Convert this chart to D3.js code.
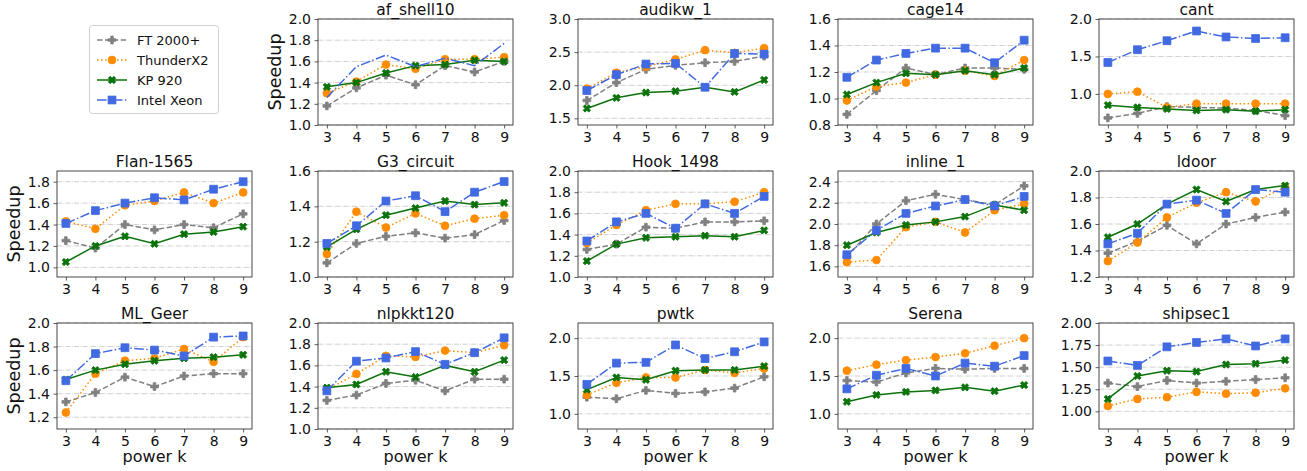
<!DOCTYPE html>
<html>
<head>
<meta charset="utf-8">
<script src="https://cdn.jsdelivr.net/npm/d3@7"></script>
<style>
  body { margin: 0; background: #fff; }
  svg { font-family: "DejaVu Sans", sans-serif; }
</style>
</head>
<body>
<svg id="chart" width="1307" height="471"></svg>
<script>
// power k on the x axis
const kValues = [3, 4, 5, 6, 7, 8, 9];
const seriesNames = ["FT 2000+", "ThunderX2", "KP 920", "Intel Xeon"];

const matrices = ["af_shell10", "audikw_1", "cage14", "cant",
    "Flan-1565", "G3_circuit", "Hook_1498", "inline_1", "ldoor",
    "ML_Geer", "nlpkkt120", "pwtk", "Serena", "shipsec1"];

// speedup values, one row per matrix (same order as matrices)
const ft2000 = [
    [1.18, 1.35, 1.47, 1.38, 1.56, 1.50, 1.60],
    [1.77, 2.04, 2.24, 2.30, 2.34, 2.36, 2.44],
    [0.88, 1.06, 1.23, 1.18, 1.23, 1.23, 1.22],
    [0.68, 0.74, 0.83, 0.82, 0.81, 0.78, 0.71],
    [1.25, 1.18, 1.40, 1.35, 1.40, 1.37, 1.50],
    [1.08, 1.19, 1.23, 1.25, 1.22, 1.24, 1.32],
    [1.26, 1.31, 1.47, 1.46, 1.52, 1.52, 1.53],
    [1.69, 2.00, 2.22, 2.28, 2.23, 2.18, 2.36],
    [1.38, 1.47, 1.59, 1.45, 1.60, 1.65, 1.69],
    [1.33, 1.41, 1.54, 1.46, 1.55, 1.57, 1.57],
    [1.27, 1.32, 1.43, 1.46, 1.36, 1.47, 1.47],
    [1.22, 1.20, 1.31, 1.27, 1.29, 1.34, 1.49],
    [1.44, 1.42, 1.54, 1.60, 1.59, 1.60, 1.60],
    [1.32, 1.28, 1.35, 1.32, 1.34, 1.36, 1.38]
];
const thunderX2 = [
    [1.30, 1.41, 1.57, 1.53, 1.62, 1.62, 1.64],
    [1.95, 2.19, 2.28, 2.39, 2.53, 2.49, 2.56],
    [0.985, 1.09, 1.12, 1.18, 1.21, 1.17, 1.29],
    [1.00, 1.03, 0.82, 0.87, 0.87, 0.87, 0.87],
    [1.43, 1.36, 1.58, 1.62, 1.70, 1.60, 1.70],
    [1.13, 1.37, 1.28, 1.36, 1.29, 1.33, 1.35],
    [1.32, 1.49, 1.63, 1.69, 1.69, 1.71, 1.80],
    [1.64, 1.66, 1.97, 2.02, 1.92, 2.13, 2.19],
    [1.32, 1.46, 1.65, 1.76, 1.84, 1.77, 1.88],
    [1.24, 1.57, 1.68, 1.70, 1.78, 1.67, 1.88],
    [1.37, 1.52, 1.69, 1.68, 1.74, 1.72, 1.79],
    [1.25, 1.41, 1.48, 1.48, 1.58, 1.54, 1.60],
    [1.57, 1.65, 1.71, 1.75, 1.80, 1.90, 2.00],
    [1.06, 1.14, 1.16, 1.22, 1.20, 1.21, 1.26]
];
const kp920 = [
    [1.36, 1.40, 1.49, 1.56, 1.57, 1.61, 1.60],
    [1.65, 1.81, 1.89, 1.91, 1.97, 1.90, 2.08],
    [1.03, 1.12, 1.19, 1.18, 1.21, 1.18, 1.23],
    [0.85, 0.82, 0.80, 0.78, 0.79, 0.77, 0.79],
    [1.05, 1.20, 1.29, 1.22, 1.31, 1.33, 1.38],
    [1.17, 1.27, 1.35, 1.39, 1.43, 1.41, 1.42],
    [1.15, 1.31, 1.37, 1.38, 1.39, 1.38, 1.44],
    [1.80, 1.92, 1.99, 2.02, 2.07, 2.18, 2.13],
    [1.50, 1.60, 1.75, 1.86, 1.77, 1.86, 1.89],
    [1.52, 1.60, 1.65, 1.68, 1.70, 1.71, 1.73],
    [1.39, 1.42, 1.54, 1.49, 1.60, 1.54, 1.65],
    [1.32, 1.48, 1.45, 1.57, 1.58, 1.58, 1.63],
    [1.16, 1.25, 1.29, 1.31, 1.35, 1.30, 1.38],
    [1.14, 1.40, 1.46, 1.45, 1.53, 1.54, 1.58]
];
const intelXeon = [
    [1.26, 1.55, 1.66, 1.55, 1.63, 1.56, 1.77],
    [1.92, 2.16, 2.32, 2.33, 1.97, 2.48, 2.47],
    [1.16, 1.29, 1.34, 1.38, 1.38, 1.27, 1.44],
    [1.42, 1.59, 1.71, 1.84, 1.76, 1.74, 1.75],
    [1.41, 1.53, 1.60, 1.65, 1.63, 1.73, 1.80],
    [1.19, 1.29, 1.43, 1.46, 1.37, 1.48, 1.54],
    [1.34, 1.52, 1.60, 1.46, 1.69, 1.60, 1.76],
    [1.71, 1.94, 2.10, 2.17, 2.23, 2.17, 2.26],
    [1.45, 1.53, 1.75, 1.78, 1.68, 1.86, 1.84],
    [1.51, 1.74, 1.79, 1.77, 1.72, 1.88, 1.89],
    [1.36, 1.64, 1.67, 1.73, 1.61, 1.72, 1.86],
    [1.39, 1.67, 1.68, 1.91, 1.73, 1.82, 1.95],
    [1.33, 1.51, 1.60, 1.50, 1.67, 1.63, 1.77],
    [1.57, 1.52, 1.73, 1.78, 1.82, 1.74, 1.82]
];

// y ranges and tick labels of every panel
const yDomains = [
    [1.0, 2.0], [1.4, 3.0], [0.8, 1.6], [0.585, 2.0],
    [0.91, 1.9], [1.0, 1.6], [1.0, 2.0], [1.5, 2.5], [1.2, 2.0],
    [1.1, 2.0], [1.0, 2.0], [0.8, 2.2], [0.8, 2.2], [0.8, 2.0]
];
const yTickLabels = [
    ["1.0", "1.2", "1.4", "1.6", "1.8", "2.0"],
    ["1.5", "2.0", "2.5", "3.0"],
    ["0.8", "1.0", "1.2", "1.4", "1.6"],
    ["1.0", "1.5", "2.0"],
    ["1.0", "1.2", "1.4", "1.6", "1.8"],
    ["1.0", "1.2", "1.4", "1.6"],
    ["1.0", "1.2", "1.4", "1.6", "1.8", "2.0"],
    ["1.6", "1.8", "2.0", "2.2", "2.4"],
    ["1.2", "1.4", "1.6", "1.8", "2.0"],
    ["1.2", "1.4", "1.6", "1.8", "2.0"],
    ["1.0", "1.2", "1.4", "1.6", "1.8", "2.0"],
    ["1.0", "1.5", "2.0"],
    ["1.0", "1.5", "2.0"],
    ["1.00", "1.25", "1.50", "1.75", "2.00"]
];

const seriesData = [ft2000, thunderX2, kp920, intelXeon];

// looks of the four series
const colors = ["#808080", "#ff8c00", "#0b720b", "#4169e1"];
const dashes = ["5.5,2.4", "1.5,2.5", null, "9.6,2.4,1.5,2.4"];
const symbols = [
    d3.symbol().type(d3.symbolCross).size(34),
    d3.symbol().type(d3.symbolCircle).size(48),
    d3.symbol().type(d3.symbolCross).size(34),
    d3.symbol().type(d3.symbolSquare).size(62)
];
const rotations = [0, 0, 45, 0];

const colLeft = [57, 318, 578, 838, 1099];
const rowTop = [19, 171, 323];
const plotW = 195;
const plotH = 106;

const svg = d3.select("#chart");

function drawMarker(g, i, x, y) {
    g.append("path")
        .attr("d", symbols[i]())
        .attr("transform", "translate(" + x + "," + y + ") rotate(" + rotations[i] + ")")
        .attr("fill", colors[i])
        .attr("stroke", colors[i])
        .attr("stroke-width", 0.8);
}

matrices.forEach(function (name, m) {
    const cell = m + 1;
    const row = Math.floor(cell / 5);
    const col = cell % 5;
    const g = svg.append("g")
        .attr("transform", "translate(" + colLeft[col] + "," + rowTop[row] + ")");

    const x = d3.scaleLinear().domain([2.7, 9.3]).range([0, plotW]);
    const y = d3.scaleLinear().domain(yDomains[m]).range([plotH, 0]);
    const tickVals = yTickLabels[m].map(Number);

    // grid
    g.selectAll(".grid")
        .data(tickVals)
        .enter().append("line")
        .attr("x1", 0).attr("x2", plotW)
        .attr("y1", d => y(d)).attr("y2", d => y(d))
        .attr("stroke", "#c4c4c4")
        .attr("stroke-width", 0.8)
        .attr("stroke-dasharray", "5.1,1.3,0.8,1.3");

    // y axis
    const yAxis = g.append("g")
        .call(d3.axisLeft(y).tickValues(tickVals)
            .tickFormat((d, i) => yTickLabels[m][i])
            .tickSize(3.5).tickPadding(3.5));
    // x axis
    const xAxis = g.append("g")
        .attr("transform", "translate(0," + plotH + ")")
        .call(d3.axisBottom(x).tickValues(kValues)
            .tickFormat(d3.format("d"))
            .tickSize(3.5).tickPadding(3.5));
    [yAxis, xAxis].forEach(function (a) {
        a.select(".domain").remove();
        a.selectAll("line").attr("stroke", "#333").attr("stroke-width", 0.8);
        a.selectAll("text").attr("fill", "#111").style("font-size", "14px")
            .style("font-family", "DejaVu Sans, sans-serif");
    });

    // lines and markers
    const line = d3.line().x((d, i) => x(kValues[i])).y(d => y(d));
    seriesData.forEach(function (series, s) {
        const vals = series[m];
        g.append("path")
            .datum(vals)
            .attr("d", line)
            .attr("fill", "none")
            .attr("stroke", colors[s])
            .attr("stroke-width", 1.5)
            .attr("stroke-dasharray", dashes[s]);
        // Intel markers are missing in the af_shell10 panel
        if (s === 3 && name === "af_shell10") return;
        vals.forEach(function (v, i) {
            drawMarker(g, s, x(kValues[i]), y(v));
        });
    });

    // frame
    g.append("rect")
        .attr("x", 0).attr("y", 0)
        .attr("width", plotW).attr("height", plotH)
        .attr("fill", "none")
        .attr("stroke", "#333")
        .attr("stroke-width", 0.9);

    // title
    g.append("text")
        .attr("x", plotW / 2).attr("y", -4.5)
        .attr("text-anchor", "middle")
        .style("font-size", "15.5px")
        .attr("fill", "#111")
        .text(name);

    if (col === 0 || cell === 1) {
        g.append("text")
            .attr("transform", "translate(-37.5," + plotH / 2 + ") rotate(-90)")
            .attr("text-anchor", "middle")
            .style("font-size", "17.5px")
            .attr("fill", "#111")
            .text("Speedup");
    }
    if (row === 2) {
        g.append("text")
            .attr("x", plotW / 2).attr("y", plotH + 33)
            .attr("text-anchor", "middle")
            .style("font-size", "16px")
            .attr("fill", "#111")
            .text("power k");
    }
});

// legend in the empty first cell
const legend = svg.append("g");
legend.append("rect")
    .attr("x", 89.5).attr("y", 25.5)
    .attr("width", 129).attr("height", 88)
    .attr("rx", 3)
    .attr("fill", "#fff")
    .attr("stroke", "#d0d0d0")
    .attr("stroke-width", 1);
seriesNames.forEach(function (label, s) {
    const ly = 40 + s * 20;
    legend.append("line")
        .attr("x1", 97).attr("x2", 127)
        .attr("y1", ly).attr("y2", ly)
        .attr("stroke", colors[s])
        .attr("stroke-width", 1.5)
        .attr("stroke-dasharray", dashes[s]);
    drawMarker(legend, s, 112, ly);
    legend.append("text")
        .attr("x", 137).attr("y", ly)
        .attr("dy", "0.35em")
        .style("font-size", "13px")
        .attr("fill", "#111")
        .text(label);
});
</script>
</body>
</html>
